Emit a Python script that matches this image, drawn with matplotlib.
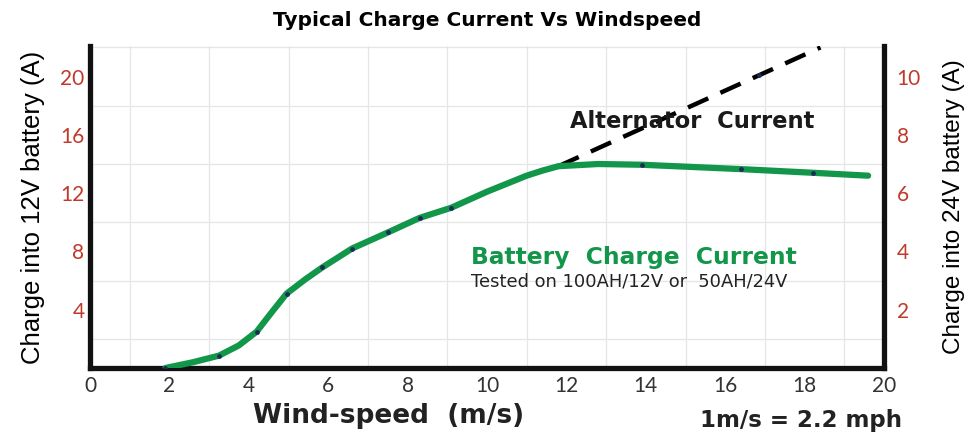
import matplotlib
matplotlib.use("Agg")
import matplotlib.pyplot as plt
import numpy as np

# Data
battery_x = [1.9, 2.6, 3.25, 3.75, 4.2, 4.57, 4.95, 5.43, 5.85, 6.6, 7.5, 8.3, 9.1, 10.0, 10.5, 11.0, 11.4, 11.8, 12.8, 13.9, 16.4, 18.2, 19.6]
battery_y = [0.0, 0.4, 0.85, 1.55, 2.5, 3.8, 5.1, 6.1, 6.9, 8.2, 9.3, 10.3, 11.0, 12.1, 12.65, 13.2, 13.55, 13.85, 14.0, 13.95, 13.65, 13.4, 13.2]
alt_x = [11.8, 16.86, 18.4]
alt_y = [13.85, 20.1, 22.0]
marker_x = [1.9, 3.25, 4.2, 4.95, 5.85, 6.6, 7.5, 8.3, 9.1, 13.9, 16.4, 18.2, 16.86]
marker_y = [0.0, 0.85, 2.5, 5.1, 6.9, 8.2, 9.3, 10.3, 11.0, 13.95, 13.65, 13.4, 20.1]
x_ticks = [0, 2, 4, 6, 8, 10, 12, 14, 16, 18, 20]
left_ticks = [4, 8, 12, 16, 20]
right_ticks = [2, 4, 6, 8, 10]

green = "#12964a"
red = "#c0392b"

fig = plt.figure(figsize=(9.69, 4.32), dpi=100)
ax = fig.add_axes([90/969, 1 - 368/432, (884-90)/969, (368-46)/432])
ax.set_xlim(0, 20)
ax.set_ylim(0, 22.1)

# grid
ax.set_xticks(np.arange(0, 21, 1), minor=True)
ax.set_yticks(np.arange(0, 23, 2), minor=True)
ax.grid(which="minor", color="#e6e6e6", linewidth=0.9)
ax.set_axisbelow(True)

ax.plot(alt_x, alt_y, color="black", linewidth=3.2, dashes=(5, 3.0), solid_capstyle="butt", zorder=3)
ax.plot(battery_x, battery_y, color=green, linewidth=4.5, solid_capstyle="round", solid_joinstyle="round", zorder=4)
ax.scatter(marker_x, marker_y, s=6, color="#1f2a5a", zorder=5)

ax.set_xticks(x_ticks)
ax.set_xticklabels([str(v) for v in x_ticks], color="#333333", fontsize=15, family="Lato")
ax.set_yticks(left_ticks)
ax.set_yticklabels([str(v) for v in left_ticks], color=red, fontsize=15, family="Lato")
ax.tick_params(axis="both", which="both", length=0)
ax.tick_params(axis="x", pad=6)
ax.tick_params(axis="y", pad=4)

for s in ["left", "right", "bottom"]:
    ax.spines[s].set_linewidth(3.8)
    ax.spines[s].set_color("#111111")
ax.spines["top"].set_visible(False)

ax2 = ax.twinx()
ax2.set_ylim(0, 22.1 / 2)
ax2.set_yticks(right_ticks)
ax2.set_yticklabels([str(v) for v in right_ticks], color=red, fontsize=15, family="Lato")
ax2.tick_params(axis="y", length=0, pad=9)
for s in ["left", "right", "bottom", "top"]:
    ax2.spines[s].set_visible(False)

ax.set_ylabel("Charge into 12V battery (A)", fontsize=18.5, color="black", labelpad=11,
              family="Liberation Sans")
ax2.set_ylabel("Charge into 24V battery (A)", fontsize=17.5, color="black", labelpad=16, rotation=90,
               family="Liberation Sans")

fig.text(487/969, 1 - 21/432, "Typical Charge Current Vs Windspeed", ha="center", va="center",
         fontsize=14.5, fontweight="bold")
fig.text(389/969, 1 - 416/432, "Wind-speed  (m/s)", ha="center", va="center",
         fontsize=19, fontweight="bold", color="#222222")
fig.text(801/969, 1 - 421/432, "1m/s = 2.2 mph", ha="center", va="center",
         fontsize=16.5, fontweight="bold", color="#222222")

ax.text(12.1, 16.9, "Alternator  Current", fontsize=16.3, fontweight="bold", color="#1a1a1a", va="center")
ax.text(9.6, 7.6, "Battery  Charge  Current", fontsize=16.8, fontweight="bold", color=green, va="center")
ax.text(9.6, 5.95, "Tested on 100AH/12V or  50AH/24V", fontsize=12.9, color="#222222", va="center")

fig.savefig("out.png", dpi=100)
